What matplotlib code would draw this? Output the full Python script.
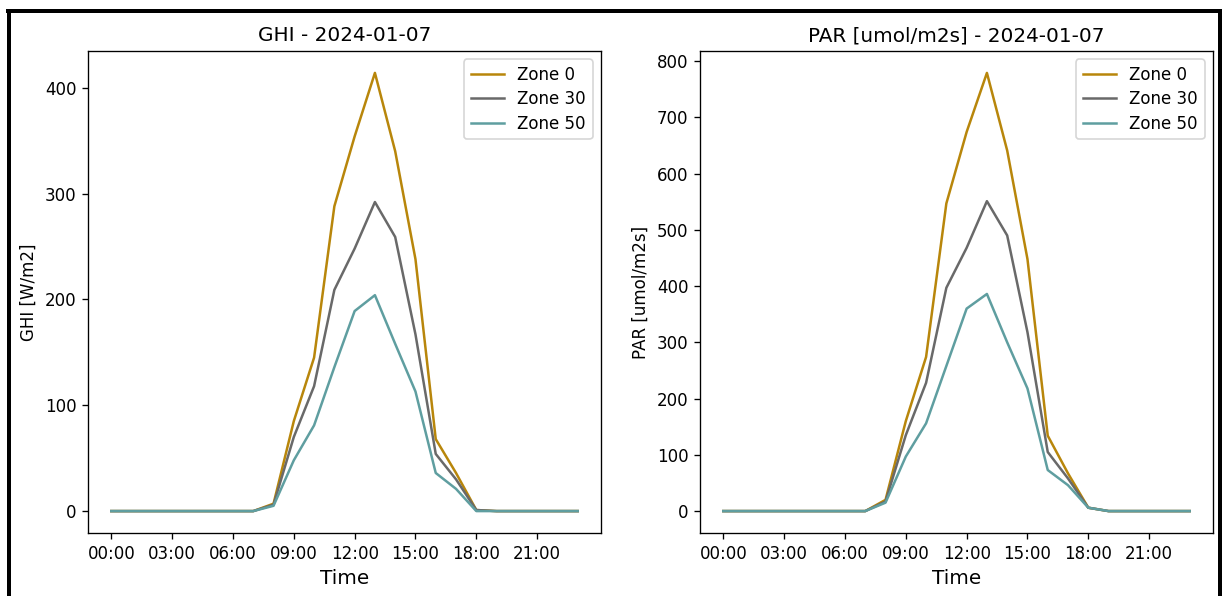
import matplotlib
matplotlib.use("Agg")
import matplotlib.pyplot as plt
import matplotlib.dates as mdates
from matplotlib.lines import Line2D
import pandas as pd

# Hourly timestamps for the day
day = "2024-01-07"
times = pd.date_range(f"{day} 00:00", periods=24, freq="h")

zones = ["Zone 0", "Zone 30", "Zone 50"]
colors = ["#b8860b", "#696969", "#5f9ea0"]

# Global horizontal irradiance per zone [W/m2]
ghi_zone0 = [0, 0, 0, 0, 0, 0, 0, 0, 7, 85, 145, 288, 354, 414, 340, 238, 68, 36, 1, 0, 0, 0, 0, 0]
ghi_zone30 = [0, 0, 0, 0, 0, 0, 0, 0, 6, 70, 118, 209, 248, 292, 259, 167, 54, 30, 1, 0, 0, 0, 0, 0]
ghi_zone50 = [0, 0, 0, 0, 0, 0, 0, 0, 5, 48, 81, 136, 189, 204, 158, 113, 36, 21, 0, 0, 0, 0, 0, 0]

# Photosynthetically active radiation per zone [umol/m2s]
par_zone0 = [0, 0, 0, 0, 0, 0, 0, 0, 20, 160, 274, 547, 674, 779, 641, 448, 134, 67, 6, 0, 0, 0, 0, 0]
par_zone30 = [0, 0, 0, 0, 0, 0, 0, 0, 17, 135, 228, 397, 468, 551, 490, 318, 105, 58, 6, 0, 0, 0, 0, 0]
par_zone50 = [0, 0, 0, 0, 0, 0, 0, 0, 15, 97, 156, 258, 360, 386, 300, 218, 73, 46, 6, 0, 0, 0, 0, 0]

panels = [
    ("GHI", "GHI [W/m2]", [ghi_zone0, ghi_zone30, ghi_zone50]),
    ("PAR [umol/m2s]", "PAR [umol/m2s]", [par_zone0, par_zone30, par_zone50]),
]

fig = plt.figure(figsize=(1223 / 120, 596 / 120), dpi=120)
axes = [
    fig.add_axes([88 / 1223, 1 - 533 / 596, 513 / 1223, 482 / 596]),
    fig.add_axes([700 / 1223, 1 - 533 / 596, 513 / 1223, 482 / 596]),
]

for ax, (name, ylabel, series) in zip(axes, panels):
    for label, values, color in zip(zones, series, colors):
        ax.plot(times, values, color=color, label=label, linewidth=1.5)
    ax.set_title(f"{name} - {day}", fontsize=12)
    ax.set_xlabel("Time", fontsize=12)
    ax.set_ylabel(ylabel, fontsize=10)
    ax.set_xticks(times[::3])
    ax.xaxis.set_major_formatter(mdates.DateFormatter("%H:%M"))
    ax.legend(loc="upper right", fontsize=10, labelspacing=0.38)

# Frame around the whole figure
border = dict(color="black", linewidth=2.4, transform=fig.transFigure, clip_on=False)
fig.add_artist(Line2D([7.5 / 1223, 1220 / 1223], [1 - 11 / 596, 1 - 11 / 596], **border))
fig.add_artist(Line2D([9 / 1223, 9 / 1223], [1 - 11 / 596, -0.05], **border))
fig.add_artist(Line2D([1220 / 1223, 1220 / 1223], [1 - 11 / 596, -0.05], **border))

fig.savefig("out.png", dpi=120)
